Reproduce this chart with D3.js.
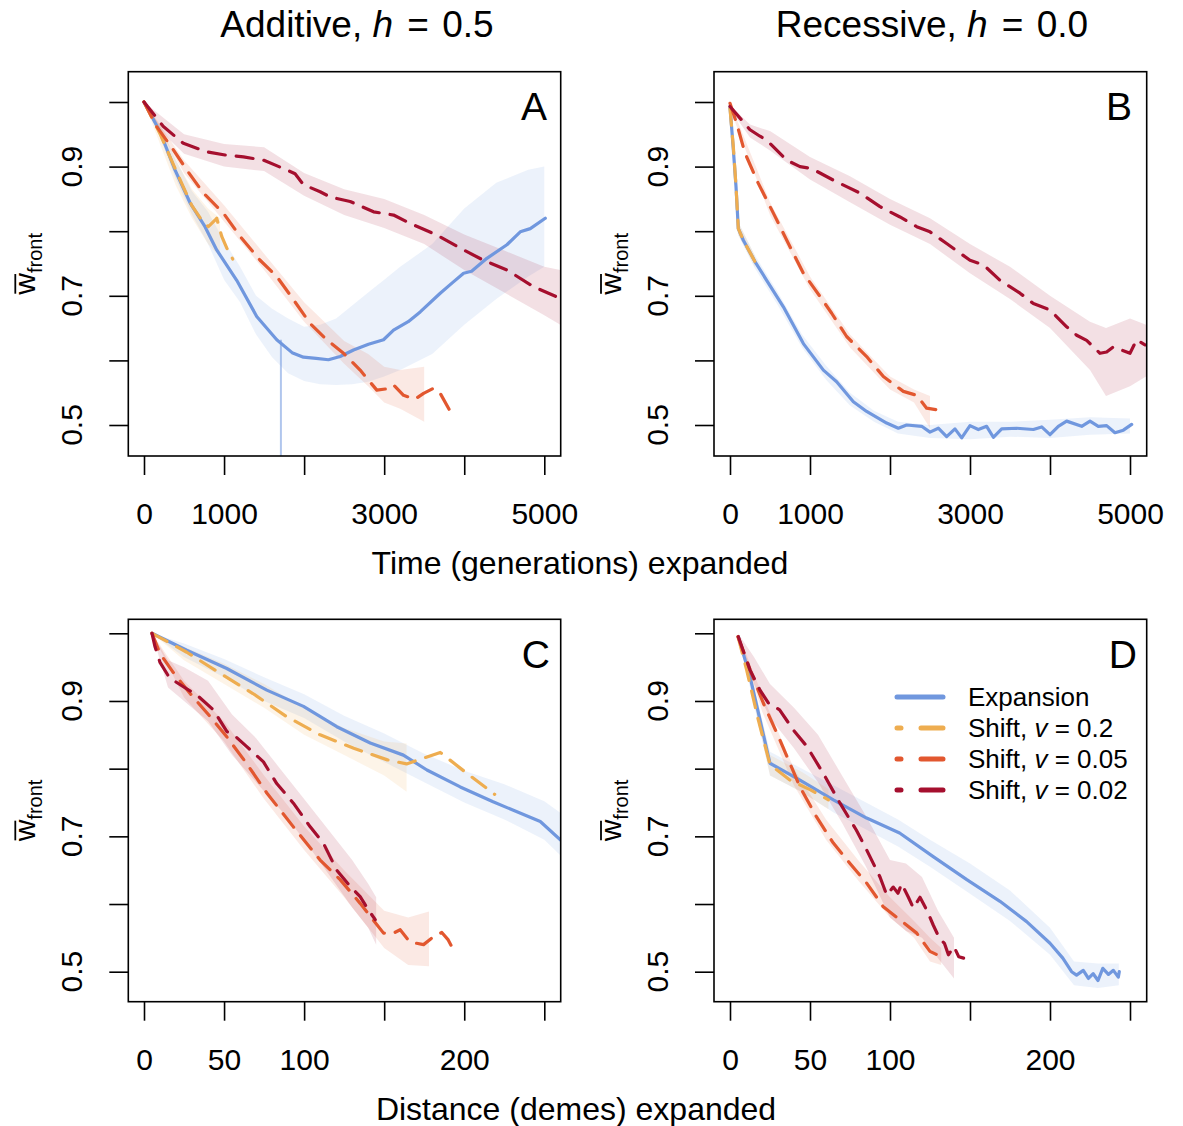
<!DOCTYPE html>
<html><head><meta charset="utf-8">
<script src="https://cdn.jsdelivr.net/npm/d3@7"></script>
<style>body{margin:0;background:#fff} svg{display:block}</style>
</head><body><svg id="chart" width="1183" height="1126"></svg>
<script>
// ---------------- DATA ----------------
const seriesNames = ["Expansion", "Shift, v = 0.2", "Shift, v = 0.05", "Shift, v = 0.02"];
const timeTicks = [0, 1000, 2000, 3000, 4000, 5000];
const timeTickLabels = [0, 1000, 3000, 5000];
const distTicks = [0, 50, 100, 150, 200, 250];
const distTickLabels = [0, 50, 100, 200];
const wTicks = [0.5, 0.6, 0.7, 0.8, 0.9, 1.0];
const wTickLabels = [0.5, 0.7, 0.9];

// Panel A (time, additive): [generation, mean w]
const aExpansion = [[0,1.0],[200,.954],[387,.895],[575,.844],[762,.807],[908,.771],[1158,.724],[1408,.668],[1658,.632],[1850,.612],[1992,.605],[2150,.603],[2304,.601],[2450,.606],[2617,.616],[2804,.625],[2992,.632],[3117,.647],[3300,.66],[3450,.675],[3700,.704],[3850,.72],[3992,.735],[4092,.738],[4283,.758],[4533,.779],[4700,.799],[4825,.804],[5012,.82]];
const aShift02 = [[0,1.0],[200,.951],[325,.915],[471,.874],[596,.840],[721,.817],[804,.807],[887,.817],[908,.82],[971,.792],[1033,.774],[1108,.757]];
const aShift005 = [[0,1.0],[158,.962],[367,.926],[533,.895],[742,.859],[992,.828],[1200,.792],[1450,.755],[1658,.730],[1867,.694],[2075,.657],[2283,.632],[2492,.611],[2700,.585],[2908,.554],[3033,.556],[3117,.562],[3242,.546],[3387,.540],[3492,.549],[3617,.557],[3700,.549],[3817,.523]];
const aShift002 = [[0,1.0],[242,.962],[492,.936],[783,.923],[1012,.918],[1242,.915],[1492,.910],[1742,.897],[1887,.889],[1992,.872],[2200,.861],[2325,.853],[2575,.846],[2867,.830],[3117,.825],[3325,.812],[3658,.794],[3992,.771],[4242,.755],[4533,.740],[4867,.714],[5200,.696]];
// bands: [x, lower, upper]
const aExpansionBand = [[0,1,1],[200,.945,.962],[400,.88,.91],[600,.825,.862],[800,.78,.83],[1000,.725,.785],[1200,.69,.745],[1400,.64,.70],[1600,.605,.68],[1800,.58,.665],[2000,.568,.652],[2200,.563,.655],[2400,.562,.665],[2600,.563,.685],[2800,.567,.705],[3000,.575,.725],[3200,.585,.745],[3600,.61,.78],[4000,.655,.835],[4400,.695,.875],[4800,.73,.895],[5000,.745,.90]];
const aShift02Band = [[0,1,1],[200,.935,.965],[400,.87,.91],[600,.82,.865],[800,.78,.835],[950,.76,.82]];
const aShift005Band = [[0,1,1],[500,.89,.91],[1000,.815,.84],[1500,.74,.765],[2000,.66,.69],[2500,.595,.63],[2800,.56,.61],[3000,.535,.59],[3200,.525,.585],[3500,.505,.59]];
const aShift002Band = [[0,1,1],[250,.95,.975],[500,.92,.95],[1000,.90,.935],[1500,.893,.93],[2000,.855,.89],[2500,.825,.865],[3000,.805,.85],[3500,.78,.825],[4000,.74,.795],[4500,.705,.77],[5000,.67,.745],[5200,.655,.74]];
const aExpansionDrop = [1710, 0.632]; // thin vertical trace: [generation, top w]

// Panel B (time, recessive)
const bExpansion = [[0,.993],[42,.926],[75,.869],[104,.804],[167,.786],[312,.753],[458,.724],[667,.683],[917,.626],[1167,.585],[1333,.567],[1542,.536],[1708,.521],[1958,.503],[2104,.495],[2208,.500],[2396,.498],[2500,.489],[2604,.495],[2708,.482],[2812,.494],[2896,.480],[3000,.499],[3104,.493],[3208,.498],[3292,.481],[3396,.494],[3583,.495],[3792,.493],[3896,.497],[4000,.485],[4104,.498],[4208,.506],[4396,.498],[4500,.506],[4604,.498],[4708,.499],[4812,.488],[4917,.492],[5021,.501]];
const bShift02 = [[0,.99],[42,.93],[75,.87],[104,.804],[167,.786],[312,.753]];
const bShift005 = [[0,.998],[83,.967],[187,.921],[354,.874],[542,.828],[750,.776],[917,.735],[1125,.699],[1271,.673],[1458,.637],[1708,.606],[1917,.575],[2167,.552],[2333,.546],[2458,.526],[2617,.523]];
const bShift002 = [[0,.993],[250,.957],[375,.947],[458,.941],[708,.910],[875,.900],[1021,.897],[1292,.879],[1458,.869],[1625,.859],[1875,.838],[2125,.822],[2333,.807],[2500,.799],[2708,.781],[3000,.755],[3167,.748],[3375,.724],[3625,.704],[3792,.688],[4000,.678],[4208,.652],[4333,.639],[4458,.631],[4625,.611],[4708,.613],[4792,.621],[5000,.611],[5083,.632],[5187,.624]];
const bExpansionBand = [[0,.99,.995],[100,.795,.815],[300,.745,.765],[600,.685,.705],[900,.62,.64],[1200,.57,.592],[1500,.53,.55],[1800,.505,.522],[2100,.487,.505],[2500,.48,.5],[3000,.478,.505],[3500,.482,.505],[4000,.48,.508],[4500,.485,.512],[5000,.487,.51]];
const bShift02Band = [[0,.99,.995],[100,.795,.815],[312,.745,.762]];
const bShift005Band = [[0,.99,1],[500,.825,.845],[1000,.71,.73],[1500,.62,.64],[2000,.555,.575],[2300,.535,.555],[2500,.495,.545]];
const bShift002Band = [[0,.99,.995],[250,.945,.965],[500,.925,.955],[1000,.88,.915],[1500,.845,.885],[2000,.81,.85],[2500,.78,.82],[3000,.735,.78],[3500,.695,.745],[4000,.65,.70],[4500,.585,.66],[4700,.545,.65],[5000,.56,.665],[5200,.575,.655]];

// Panel C (distance, additive): [demes, mean w]
const cExpansion = [[5,1.0],[26.7,.975],[51.7,.948],[76.7,.916],[99.6,.892],[120.4,.862],[141.3,.838],[162,.820],[176.7,.798],[197.5,.773],[218,.751],[247.5,.722],[260,.695]];
const cShift02 = [[5,1.0],[26.7,.972],[47.5,.941],[68,.911],[89,.877],[110,.850],[131,.830],[152,.813],[164,.807],[185,.824],[201.7,.793],[219,.762]];
const cShift005 = [[5,1.0],[10,.970],[18,.943],[28.8,.911],[41.3,.877],[51.7,.847],[64,.808],[76.7,.764],[93.3,.714],[110,.665],[122.5,.636],[135,.601],[143.3,.576],[149.6,.557],[155.8,.557],[160,.562],[166,.544],[174.6,.540],[181,.552],[186,.558],[190,.547],[193.3,.532]];
const cShift002 = [[5,1.0],[6.9,.980],[10,.957],[16,.934],[24.6,.921],[32.9,.909],[43.3,.887],[51.7,.855],[57.9,.846],[64,.833],[74.6,.810],[82.9,.778],[93.3,.749],[103.8,.714],[112,.690],[120.4,.650],[128.8,.626],[135,.611],[140.2,.591],[144.4,.577]];
const cExpansionBand = [[5,1,1],[25,.965,.985],[50,.935,.962],[75,.90,.935],[100,.875,.91],[125,.84,.878],[150,.81,.852],[175,.78,.822],[200,.75,.797],[225,.725,.777],[250,.695,.752],[260,.672,.735]];
const cShift02Band = [[5,1,1],[25,.96,.98],[50,.925,.955],[75,.89,.925],[100,.85,.89],[125,.82,.86],[150,.79,.84],[164,.766,.837]];
const cShift005Band = [[5,1,1],[25,.905,.93],[50,.84,.87],[75,.755,.79],[100,.68,.715],[125,.61,.65],[150,.535,.59],[165,.51,.58],[178,.508,.589]];
const cShift002Band = [[5,1,1],[15,.92,.96],[25,.9,.95],[40,.87,.93],[55,.82,.88],[70,.78,.845],[85,.74,.80],[100,.695,.755],[115,.645,.71],[130,.595,.665],[140,.565,.63],[145,.54,.61]];

// Panel D (distance, recessive)
const dExpansion = [[5.2,.995],[12.5,.936],[18.75,.872],[25,.808],[43.75,.783],[64.6,.754],[85.4,.727],[106,.705],[127,.670],[148,.636],[168.75,.604],[185.4,.574],[200,.542],[208,.520],[213.5,.500],[216.6,.495],[220.8,.502],[224,.490],[227,.497],[230,.487],[233,.505],[236.5,.496],[239.6,.502],[242.7,.492],[243.3,.50]];
const dShift02 = [[5,.995],[10.4,.946],[17.7,.872],[25,.806],[37.5,.783],[50,.769],[61.5,.754]];
const dShift005 = [[5,.995],[12.5,.946],[20.8,.897],[31.25,.842],[43.75,.773],[54,.729],[64.6,.690],[75,.660],[85.4,.631],[95.8,.596],[106,.577],[116.7,.557],[125,.530],[132,.522]];
const dShift002 = [[5.2,.995],[12.5,.946],[18.75,.916],[24,.897],[31,.887],[39.6,.857],[48,.833],[58.3,.793],[68.75,.749],[79,.709],[85.4,.680],[93.75,.640],[98,.613],[102,.625],[105,.616],[107.3,.630],[111.5,.610],[114.6,.594],[118.75,.610],[123,.591],[127,.569],[131,.549],[134,.542],[136.5,.525],[140,.537],[143,.522],[146,.520]];
const dExpansionBand = [[5,1,1],[12,.925,.95],[25,.79,.825],[45,.765,.80],[65,.735,.775],[85,.71,.75],[105,.685,.725],[125,.655,.695],[150,.615,.66],[175,.575,.62],[200,.525,.565],[215,.48,.515],[230,.476,.512],[243,.48,.512]];
const dShift02Band = [[5,1,1],[12,.93,.955],[25,.79,.82],[45,.765,.795],[61.5,.74,.77]];
const dShift005Band = [[5,1,1],[20,.885,.91],[40,.775,.80],[60,.695,.725],[80,.635,.665],[100,.58,.61],[115,.55,.575],[125,.515,.55],[132,.51,.535]];
const dShift002Band = [[5,1,1],[15,.925,.965],[25,.875,.925],[40,.83,.89],[55,.78,.85],[70,.72,.79],[85,.655,.73],[100,.58,.665],[110,.56,.66],[120,.55,.64],[130,.52,.59],[140,.49,.55]];

// ---------------- STYLE ----------------
const colors = ["#7097DE", "#EEAD50", "#E2572F", "#A50F2E"];
const dashes = [null, "17,11", "17,11", "17,11"];
const FONT = "'Liberation Sans', Arial, Helvetica, sans-serif";

const svg = d3.select("#chart").style("font-family", FONT);

const panels = [
  {id:"A", box:[128.3,71.7,560.7,456], xr:[144,544.3], xd:[0,5000], yr:[425,102], ticks:timeTicks, labs:timeTickLabels,
   lines:[aExpansion,aShift02,aShift005,aShift002], bands:[aExpansionBand,aShift02Band,aShift005Band,aShift002Band], letterX:547},
  {id:"B", box:[714,71.7,1146.7,456], xr:[730,1130], xd:[0,5000], yr:[425,102], ticks:timeTicks, labs:timeTickLabels,
   lines:[bExpansion,bShift02,bShift005,bShift002], bands:[bExpansionBand,bShift02Band,bShift005Band,bShift002Band], letterX:1132},
  {id:"C", box:[128.3,619.3,560.7,1001.7], xr:[144,544.3], xd:[0,250], yr:[971.7,633.3], ticks:distTicks, labs:distTickLabels,
   lines:[cExpansion,cShift02,cShift005,cShift002], bands:[cExpansionBand,cShift02Band,cShift005Band,cShift002Band], letterX:550},
  {id:"D", box:[714,619.3,1146.7,1001.7], xr:[730,1130], xd:[0,250], yr:[971.7,633.3], ticks:distTicks, labs:distTickLabels,
   lines:[dExpansion,dShift02,dShift005,dShift002], bands:[dExpansionBand,dShift02Band,dShift005Band,dShift002Band], letterX:1137}
];

panels.forEach((p, pi) => {
  const [l, t, r, b] = p.box;
  const x = d3.scaleLinear().domain(p.xd).range(p.xr);
  const y = d3.scaleLinear().domain([0.5, 1.0]).range(p.yr);
  const g = svg.append("g");
  const clipId = "clip" + p.id;
  svg.append("clipPath").attr("id", clipId).append("rect")
    .attr("x", l).attr("y", t).attr("width", r - l).attr("height", b - t);
  const plot = g.append("g").attr("clip-path", `url(#${clipId})`);

  const area = d3.area().x(d => x(d[0])).y0(d => y(d[1])).y1(d => y(d[2]));
  p.bands.forEach((band, i) => {
    plot.append("path").attr("d", area(band)).attr("fill", colors[i]).attr("fill-opacity", 0.13);
  });
  if (p.id === "A") {
    plot.append("line")
      .attr("x1", x(aExpansionDrop[0])).attr("x2", x(aExpansionDrop[0]))
      .attr("y1", y(aExpansionDrop[1])).attr("y2", b)
      .attr("stroke", colors[0]).attr("stroke-opacity", 0.55).attr("stroke-width", 2);
  }
  const line = d3.line().x(d => x(d[0])).y(d => y(d[1]));
  p.lines.forEach((ser, i) => {
    plot.append("path").attr("d", line(ser)).attr("fill", "none")
      .attr("stroke", colors[i]).attr("stroke-width", 3.2)
      .attr("stroke-linecap", "round").attr("stroke-linejoin", "round")
      .attr("stroke-dasharray", dashes[i]);
  });

  // box
  g.append("rect").attr("x", l).attr("y", t).attr("width", r - l).attr("height", b - t)
    .attr("fill", "none").attr("stroke", "#000").attr("stroke-width", 1.6);

  // x axis
  const xa = g.append("g").attr("transform", `translate(0,${b})`)
    .call(d3.axisBottom(x).tickValues(p.ticks).tickSize(19).tickPadding(28)
      .tickFormat(d => p.labs.includes(d) ? d : ""));
  xa.select(".domain").remove();
  xa.selectAll("line").attr("stroke", "#000").attr("stroke-width", 1.6);
  xa.selectAll("text").attr("font-size", 30).attr("font-family", FONT).attr("fill", "#000");

  // y axis
  const ya = g.append("g").attr("transform", `translate(${l},0)`)
    .call(d3.axisLeft(y).tickValues(wTicks).tickSize(19).tickFormat(""));
  ya.select(".domain").remove();
  ya.selectAll("line").attr("stroke", "#000").attr("stroke-width", 1.6);
  wTickLabels.forEach(v => {
    g.append("text").attr("transform", `translate(${l - 46},${y(v)}) rotate(-90)`)
      .attr("text-anchor", "middle").attr("font-size", 30).attr("fill", "#000").text(v.toFixed(1));
  });

  // y label  w-bar front
  const lg = g.append("g").attr("transform", `translate(${l - 93},${(t + b) / 2}) rotate(-90)`);
  const yl = lg.append("text").attr("fill", "#000");
  const wt = yl.append("tspan").attr("font-size", 30).text("w");
  yl.append("tspan").attr("font-size", 20).attr("dy", 7).text("front");
  const total = yl.node().getComputedTextLength();
  const ww = wt.node().getComputedTextLength();
  const x0 = -total / 2;
  yl.attr("x", x0);
  lg.append("line").attr("x1", x0 + 1).attr("x2", x0 + ww - 1).attr("y1", -20).attr("y2", -20)
    .attr("stroke", "#000").attr("stroke-width", 1.8);

  // panel letter
  g.append("text").attr("x", p.letterX).attr("y", t + 48.5).attr("text-anchor", "end")
    .attr("font-size", 39).attr("fill", "#000").text(p.id);
});

// titles
function title(xc, word, hval) {
  const tt = svg.append("text").attr("x", xc).attr("y", 37).attr("text-anchor", "middle")
    .attr("font-size", 37).attr("fill", "#000");
  tt.append("tspan").text(word + ", ");
  tt.append("tspan").attr("font-style", "italic").text("h");
  tt.append("tspan").attr("dx", 4).text(" =");
  tt.append("tspan").attr("dx", 3).text(" " + hval);
}
title(357, "Additive", "0.5");
title(932, "Recessive", "0.0");

svg.append("text").attr("x", 580).attr("y", 574).attr("text-anchor", "middle")
  .attr("font-size", 32).attr("fill", "#000").text("Time (generations) expanded");
svg.append("text").attr("x", 576).attr("y", 1120).attr("text-anchor", "middle")
  .attr("font-size", 32).attr("fill", "#000").text("Distance (demes) expanded");

// legend (panel D)
const legend = svg.append("g");
const legY = [697, 728, 759, 790];
const legDash = [null, "4,20,22,100", "4,20,22,100", "4,20,22,100"];
seriesNames.forEach((name, i) => {
  legend.append("line").attr("x1", 897).attr("x2", 943).attr("y1", legY[i]).attr("y2", legY[i])
    .attr("stroke", colors[i]).attr("stroke-width", 5).attr("stroke-linecap", "round")
    .attr("stroke-dasharray", legDash[i]);
  const tx = legend.append("text").attr("x", 968).attr("y", legY[i] + 9)
    .attr("font-size", 26).attr("fill", "#000");
  if (i === 0) tx.text(name);
  else {
    const parts = name.split("v");
    tx.append("tspan").text(parts[0]);
    tx.append("tspan").attr("font-style", "italic").text("v");
    tx.append("tspan").text(parts[1]);
  }
});
</script></body></html>
